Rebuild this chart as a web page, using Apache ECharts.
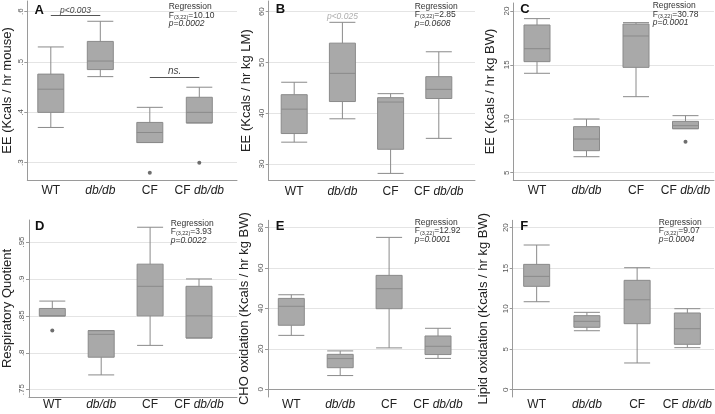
<!DOCTYPE html>
<html><head><meta charset="utf-8">
<script src="https://cdn.jsdelivr.net/npm/echarts@6/dist/echarts.min.js"></script>
<style>html,body{margin:0;padding:0;background:#fff}#c{width:715px;height:414px}</style>
</head><body><div id="c"></div>
<script>
// ---------------- data ----------------
const categories = ['WT', 'db/db', 'CF', 'CF db/db'];

// each box: [min, Q1, median, Q3, max]
const boxA = [[0.370,0.400,0.446,0.476,0.530],[0.471,0.485,0.502,0.541,0.581],[0.340,0.340,0.360,0.380,0.410],[0.379,0.379,0.400,0.430,0.450]];
const outA = [[2,0.280],[3,0.300]];
const boxB = [[34.3,36.0,40.8,43.65,46.1],[38.9,42.3,47.85,53.8,57.9],[28.15,32.9,42.2,43.06,43.85],[35.05,42.9,44.7,47.2,52.1]];
const outB = [];
const boxC = [[14.22,15.30,16.50,18.70,19.29],[6.48,7.04,8.12,9.27,9.98],[12.05,14.77,17.68,18.79,18.92],[9.08,9.08,9.36,9.76,10.29]];
const outC = [[3,7.87]];
const boxD = [[0.85,0.85,0.85,0.86,0.87],[0.77,0.794,0.825,0.83,0.83],[0.81,0.85,0.89,0.92,0.97],[0.82,0.82,0.85,0.89,0.90]];
const outD = [[0,0.83]];
const boxE = [[26.7,31.7,41.1,45.0,46.8],[6.8,10.7,15.2,17.3,19.0],[20.5,39.9,49.8,56.4,75.2],[15.3,17.2,21.3,26.4,30.2]];
const outE = [];
const boxF = [[10.86,12.76,13.99,15.47,17.86],[7.28,7.70,8.44,9.14,9.55],[3.30,8.15,11.10,13.50,15.06],[5.19,5.60,7.53,9.47,10.00]];
const outF = [];

const ticksA = [0.3,0.4,0.5,0.6];      const tickLabelsA = ['.3','.4','.5','.6'];
const ticksB = [30,40,50,60];          const tickLabelsB = ['30','40','50','60'];
const ticksC = [5,10,15,20];           const tickLabelsC = ['5','10','15','20'];
const ticksD = [0.75,0.8,0.85,0.9,0.95]; const tickLabelsD = ['.75','.8','.85','.9','.95'];
const ticksE = [0,20,40,60,80];        const tickLabelsE = ['0','20','40','60','80'];
const ticksF = [0,5,10,15,20];         const tickLabelsF = ['0','5','10','15','20'];

const namesY = ['EE (Kcals / hr mouse)','EE (Kcals / hr kg LM)','EE (Kcals / hr kg BW)','Respiratory Quotient','CHO oxidation (Kcals / hr kg BW)','Lipid oxidation (Kcals / hr kg BW)'];
const letters = ['A','B','C','D','E','F'];
// regression: F statistic, p value
const regF = ['10.10','2.85','30.78','3.93','12.92','9.07'];
const regP = ['p=0.0002','p=0.0608','p=0.0001','p=0.0022','p=0.0001','p=0.0004'];

// significance annotations (panel A): [fromCategoryIdx, toCategoryIdx, yValue, text]
const sigA = [[0,1,0.592,'p<0.003'],[2,3,0.469,'ns.']];
// text annotation (panel B): [categoryIdx, yValue, text]
const noteB = [[1,59.0,'p<0.025']];

// ---------------- layout ----------------
const FONT = '"Liberation Sans", Arial, Helvetica, sans-serif';
const L = [
  {axisX:27.3, right:237, top:1, bottom:180, min:0.2656, max:0.6213, first:50.8, band:49.5, nameGap:13, lm:5, letter:[34.5,3.5], reg:[168.7,2.5]},
  {axisX:268.7, right:475, top:1, bottom:180.3, min:26.79, max:62.1, first:294.2, band:48.2, nameGap:16, lm:5, letter:[275.7,2.5], reg:[414.7,2]},
  {axisX:513.3, right:714, top:3, bottom:180, min:4.32, max:20.74, first:537, band:49.5, nameGap:16, lm:5, letter:[520.3,2.5], reg:[652.7,1.5]},
  {axisX:28.3, right:237, top:220, bottom:397, min:0.7401, max:0.9798, first:52.3, band:48.9, nameGap:15, lm:2, letter:[35,219.5], reg:[170.7,219]},
  {axisX:268, right:475, top:220.3, bottom:397, min:-3.81, max:83.66, first:291.3, band:48.9, nameGap:17, lm:2, letter:[275.7,219.5], reg:[414.7,218.3]},
  {axisX:512.7, right:714, top:220.3, bottom:397, min:-0.9, max:20.91, first:536.7, band:50.3, nameGap:23, lm:2, letter:[520.3,219.5], reg:[658.7,218.3]}
];
const boxes = [boxA,boxB,boxC,boxD,boxE,boxF];
const outs = [outA,outB,outC,outD,outE,outF];
const ticks = [ticksA,ticksB,ticksC,ticksD,ticksE,ticksF];
const tickLabels = [tickLabelsA,tickLabelsB,tickLabelsC,tickLabelsD,tickLabelsE,tickLabelsF];

function fmtCat(v){
  return v.split(' ').map(w => w === 'db/db' ? '{i|db/db}' : '{n|' + w + '}').join(' ');
}

const grid = [], xAxis = [], yAxis = [], series = [], title = [];
L.forEach((p, i) => {
  const h = p.bottom - p.top;
  // frame grid (axis lines, ticks, grid lines)
  grid.push({left:p.axisX, top:p.top, width:p.right - p.axisX, height:h, containLabel:false});
  // data grid (category bands)
  const dl = p.first - p.band/2;
  grid.push({left:dl, top:p.top, width:p.band*4, height:h, containLabel:false});
  const gf = 2*i, gd = 2*i+1;
  xAxis.push({type:'value', gridIndex:gf, min:0, max:1, axisLine:{show:true, lineStyle:{color:'#9a9a9a', width:1}}, axisTick:{show:false}, axisLabel:{show:false}, splitLine:{show:false}});
  xAxis.push({type:'category', gridIndex:gd, data:categories, boundaryGap:true, axisLine:{show:false}, axisTick:{show:false}, splitLine:{show:false},
    axisLabel:{show:true, interval:0, margin:p.lm, formatter:fmtCat, fontSize:12, color:'#222', fontFamily:FONT,
      rich:{n:{fontSize:12, color:'#222', fontFamily:FONT}, i:{fontSize:12, color:'#222', fontStyle:'italic', fontFamily:FONT}}}});
  const tv = ticks[i], tl = tickLabels[i];
  yAxis.push({type:'value', gridIndex:gf, min:p.min, max:p.max,
    name:namesY[i], nameLocation:'middle', nameGap:p.nameGap, nameTextStyle:{fontSize:13, color:'#222', fontFamily:FONT},
    axisLine:{show:true, lineStyle:{color:'#9a9a9a', width:1}},
    axisTick:{show:true, length:3, customValues:tv, lineStyle:{color:'#9a9a9a'}},
    axisLabel:{show:true, customValues:tv, rotate:90, margin:3, fontSize:8, color:'#555', fontFamily:FONT,
      formatter:(v) => { const k = tv.findIndex(t => Math.abs(t - v) < 1e-9); return k >= 0 ? tl[k] : ''; }},
    splitLine:{show:false}});
  yAxis.push({type:'value', gridIndex:gd, min:p.min, max:p.max, show:false, splitLine:{show:false}});

  // faint horizontal grid lines at the tick values, across the frame grid (drawn beneath the boxes)
  series.push({type:'line', xAxisIndex:gf, yAxisIndex:gf, data:[], silent:true, z:0,
    markLine:{silent:true, symbol:'none', animation:false, z:0, label:{show:false},
      lineStyle:{color:'#e4e4e4', width:1, type:'solid'}, emphasis:{disabled:true},
      data: tv.map(v => ({yAxis:v}))}});

  series.push({type:'boxplot', xAxisIndex:gd, yAxisIndex:gd, data:boxes[i], boxWidth:[26,26], z:10,
    itemStyle:{color:'#a9a9a9', borderColor:'#8a8a8a', borderWidth:1}, emphasis:{disabled:true}, silent:true});
  const sc = {type:'scatter', xAxisIndex:gd, yAxisIndex:gd, data:outs[i], symbolSize:4, itemStyle:{color:'#4a4a4a'}, silent:true, z:12};
  if (i === 0) {
    sc.markLine = {silent:true, symbol:'none', animation:false, z:12,
      lineStyle:{color:'#555', width:1, type:'solid'},
      label:{show:true, position:'insideMiddleTop', distance:1, formatter:'{b}', fontStyle:'italic', fontSize:8.5, color:'#444', fontFamily:FONT},
      data: sigA.map(s => [{coord:[s[0], s[2]], name:s[3], label: s[3] === 'ns.' ? {fontSize:10} : {}}, {coord:[s[1], s[2]]}])};
  }
  series.push(sc);
  if (i === 1) {
    series.push({type:'scatter', xAxisIndex:gd, yAxisIndex:gd, data:noteB.map(n => [n[0], n[1], n[2]]), symbolSize:0, silent:true, z:12,
      label:{show:true, position:'inside', formatter:(d) => d.data[2], fontStyle:'italic', fontSize:8.5, color:'#999', fontFamily:FONT}});
  }
  title.push({text:letters[i], left:p.letter[0], top:p.letter[1], padding:0, textStyle:{fontSize:13, fontWeight:'bold', color:'#111', fontFamily:FONT}});
  title.push({text:'Regression\nF{sub|(3,22)}=' + regF[i] + '\n{it|' + regP[i] + '}', left:p.reg[0], top:p.reg[1], padding:0,
    textStyle:{fontSize:8.5, lineHeight:8.5, fontWeight:'normal', color:'#333', fontFamily:FONT,
      rich:{sub:{fontSize:5.5, padding:[4,0,0,0], color:'#333', fontFamily:FONT}, it:{fontSize:8.5, fontStyle:'italic', color:'#333', fontFamily:FONT}}}});
});

const chart = echarts.init(document.getElementById('c'), null, {renderer:'canvas'});
chart.setOption({animation:false, backgroundColor:'#fff', title, grid, xAxis, yAxis, series});
</script></body></html>
